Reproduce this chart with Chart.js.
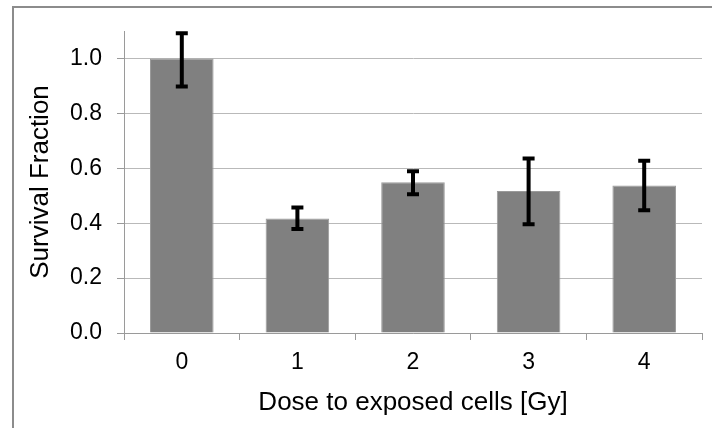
<!DOCTYPE html>
<html>
<head>
<meta charset="utf-8">
<script src="https://cdn.jsdelivr.net/npm/chart.js@4/dist/chart.umd.min.js"></script>
<style>
    body { margin: 0; background: #fff; overflow: hidden; }
    #frame { position: absolute; left: 12px; top: 6px; width: 800px; height: 600px; border: 2px solid #8c8c8c; }
    #wrap { position: absolute; left: 0; top: 0; width: 712px; height: 428px; }
</style>
</head>
<body>
<div id="frame"></div>
<div id="wrap"><canvas id="survivalChart" width="712" height="428"></canvas></div>
<script>
// Survival fraction per dose
var doses = ['0', '1', '2', '3', '4'];
var survival = [1.0, 0.417, 0.549, 0.517, 0.537];
var errUpper = [1.092, 0.457, 0.589, 0.636, 0.627];
var errLower = [0.898, 0.379, 0.505, 0.396, 0.447];

// Draws the vertical error bars with caps, using the chart's own scales
var errorBarPlugin = {
    id: 'errorBars',
    afterDatasetsDraw: function (chart) {
        var ctx = chart.ctx;
        var xScale = chart.scales.x;
        var yScale = chart.scales.y;
        ctx.save();
        ctx.strokeStyle = '#000';
        ctx.lineWidth = 4;
        for (var i = 0; i < doses.length; i++) {
            var x = xScale.getPixelForValue(i);
            var yTop = yScale.getPixelForValue(errUpper[i]);
            var yBot = yScale.getPixelForValue(errLower[i]);
            ctx.beginPath();
            ctx.moveTo(x, yTop);
            ctx.lineTo(x, yBot);
            ctx.moveTo(x - 6, yTop);
            ctx.lineTo(x + 6, yTop);
            ctx.moveTo(x - 6, yBot);
            ctx.lineTo(x + 6, yBot);
            ctx.stroke();
        }
        ctx.restore();
    }
};

var ctx = document.getElementById('survivalChart').getContext('2d');

var survivalChart = new Chart(ctx, {
    type: 'bar',
    data: {
        labels: doses,
        datasets: [{
            label: 'Survival Fraction',
            data: survival,
            backgroundColor: '#808080',
            borderColor: '#9a9a9a',
            borderWidth: 1,
            barPercentage: 0.55,
            categoryPercentage: 1.0
        }]
    },
    options: {
        responsive: false,
        animation: false,
        layout: {
            padding: { top: 31, right: 10, left: 0, bottom: 0 }
        },
        scales: {
            x: {
                afterFit: function (scale) { scale.height = 95; },
                grid: {
                    offset: true,
                    drawOnChartArea: false,
                    tickLength: 7,
                    tickColor: '#9a9a9a'
                },
                border: { color: '#9a9a9a', width: 1 },
                ticks: {
                    color: '#000',
                    padding: 9,
                    font: { family: 'Liberation Sans, Arial', size: 23 }
                },
                title: {
                    display: true,
                    text: 'Dose to exposed cells [Gy]',
                    color: '#000',
                    padding: { top: 0, bottom: 10 },
                    font: { family: 'Liberation Sans, Arial', size: 26 }
                }
            },
            y: {
                min: 0,
                max: 1.1,
                afterFit: function (scale) { scale.width = 124; },
                grid: {
                    color: function (c) {
                        var v = Math.round(c.tick.value * 10);
                        return (v % 2 === 0) ? '#b9b9b9' : 'rgba(0,0,0,0)';
                    },
                    tickColor: '#9a9a9a',
                    tickLength: 7
                },
                border: { color: '#9a9a9a', width: 1 },
                ticks: {
                    stepSize: 0.1,
                    color: '#000',
                    padding: 15,
                    font: { family: 'Liberation Sans, Arial', size: 23 },
                    callback: function (value) {
                        var v = Math.round(value * 10);
                        return (v % 2 === 0) ? (v / 10).toFixed(1) : '';
                    }
                },
                title: {
                    display: true,
                    text: 'Survival Fraction',
                    color: '#000',
                    padding: { top: 25, bottom: 0 },
                    font: { family: 'Liberation Sans, Arial', size: 26 }
                }
            }
        },
        plugins: {
            legend: { display: false },
            tooltip: { enabled: false }
        }
    },
    plugins: [errorBarPlugin]
});
</script>
</body>
</html>
